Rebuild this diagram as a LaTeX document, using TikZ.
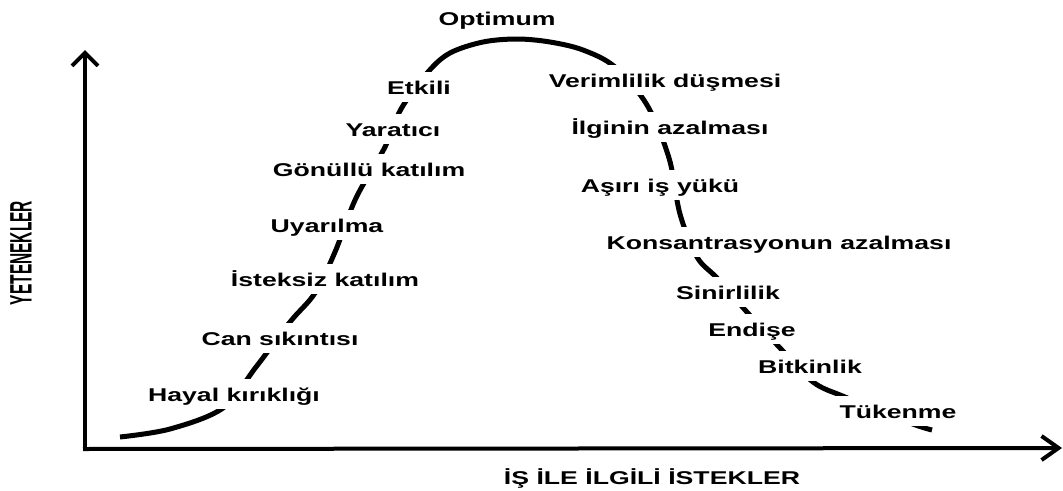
\documentclass[tikz,border=0pt]{standalone}
\usepackage{fontspec}
\usepackage{tikz}
\usetikzlibrary{arrows.meta}
\newfontfamily\lblfont[FakeStretch=1.44]{Liberation Sans}
\newfontfamily\axfont[FakeStretch=0.5]{Liberation Sans}
\newcommand{\stagefont}{\lblfont\bfseries\fontsize{18.5}{20}\selectfont}

\begin{document}
\begin{tikzpicture}[
  x=1pt, y=-1pt,
  stage/.style={font=\stagefont, fill=white, inner xsep=4pt, inner ysep=7.5pt,
                text height=15pt, text depth=0pt, anchor=base},
  axlbl/.style={font=\stagefont, inner sep=0pt},
  axis/.style={line width=4pt, -{Straight Barb[length=13pt, width=26pt]}},
  curve/.style={line width=5pt},
]
\useasboundingbox (0,0) rectangle (1063,490);

% ================================ axes ======================================
\coordinate (origin) at (85,449);
\coordinate (ytip) at (85,50);
\coordinate (xtip) at (1062,448);
\draw[axis] (origin) -- (ytip);
\draw[axis, -{Straight Barb[length=17pt, width=24pt]}] ([xshift=-2pt]origin) -- (xtip);

\node[axlbl] (xlbl) at (652,478) {İŞ İLE İLGİLİ İSTEKLER};
\node[inner sep=0pt, rotate=90, font=\axfont\bfseries\fontsize{31}{32}\selectfont]
  (ylbl) at (21,253) {YETENEKLER};

% ============================ the curve =====================================
% Drawn whole; the white label boxes below cut it into pieces.
\draw[curve] plot[smooth, tension=0.55] coordinates {
  (120,437) (170,429) (223,408) (256,367) (290,322) (315,293) (335,252)
  (356,198) (385,147) (401,109) (428,72) (450,53) (483,42) (517,39)
  (550,42) (583,50) (615,67) (647,105) (669,158) (680,214) (697,257)
  (717,278) (746,311) (781,349) (813,382) (845,397) (910,423) (932,430)};

% ============================ rising side ===================================
% labels sit on their baselines (cap middle + 6.5)
\node[stage] (hayal)    at (234,401.5) {Hayal kırıklığı};
\node[stage] (can)      at (280,345.5) {Can sıkıntısı};
\node[stage] (isteksiz) at (325,286.5) {İsteksiz katılım};
\node[stage] (uyarilma) at (327,232.5) {Uyarılma};
\node[stage] (gonullu)  at (369,176.5) {Gönüllü katılım};
\node[stage] (yaratici) at (393,136.5) {Yaratıcı};
\node[stage] (etkili)   at (419,94.5)  {Etkili};
\node[stage] (optimum)  at (497,25.5)  {Optimum};

% ============================ falling side ==================================
\node[stage] (verim)    at (665,87.5)  {Verimlilik düşmesi};
\node[stage] (ilgi)     at (670,134.5) {İlginin azalması};
\node[stage] (asiri)    at (660,192.5) {Aşırı iş yükü};
\node[stage] (konsan)   at (779,249.5) {Konsantrasyonun azalması};
\node[stage] (sinir)    at (728,299.5) {Sinirlilik};
\node[stage] (endise)   at (752,336.5) {Endişe};
\node[stage] (bitkin)   at (810,373.5) {Bitkinlik};
\node[stage] (tuken)    at (898,418.5) {Tükenme};
\end{tikzpicture}
\end{document}
